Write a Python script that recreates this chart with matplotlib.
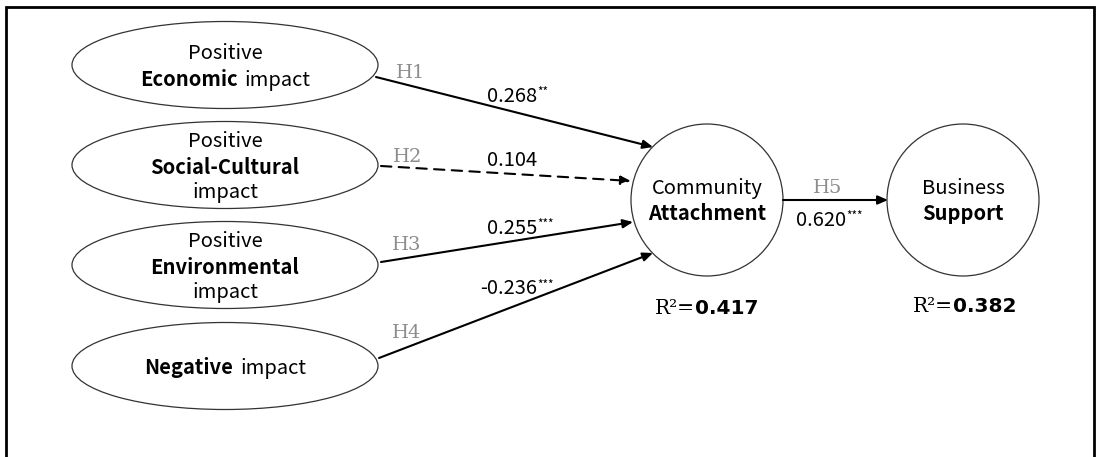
import matplotlib
matplotlib.use("Agg")
import matplotlib.pyplot as plt
from matplotlib.patches import Ellipse, Circle, FancyArrowPatch
from matplotlib.offsetbox import TextArea, HPacker, VPacker, AnnotationBbox

# path model values
hypotheses = ["H1", "H2", "H3", "H4", "H5"]
coefs = ["0.268", "0.104", "0.255", "-0.236", "0.620"]
stars = ["**", "", "***", "***", "***"]
significant = [True, False, True, True, True]
r2_values = ["0.417", "0.382"]

# each line is a list of (text, bold) pieces
source_labels = [
    [[("Positive", False)], [("Economic", True), ("impact", False)]],
    [[("Positive", False)], [("Social-Cultural", True)], [("impact", False)]],
    [[("Positive", False)], [("Environmental", True)], [("impact", False)]],
    [[("Negative", True), ("impact", False)]],
]
target_labels = [
    [[("Community", False)], [("Attachment", True)]],
    [[("Business", False)], [("Support", True)]],
]

SANS = ["Noto Sans CJK KR", "DejaVu Sans"]
SERIF = "DejaVu Serif"
FS = 14.5

fig = plt.figure(figsize=(10.99, 4.57), dpi=100)
ax = fig.add_axes([0, 0, 1, 1])
ax.set_xlim(0, 1099)
ax.set_ylim(457, 0)
ax.axis("off")

# frame (no bottom edge)
ax.plot([6, 6, 1094, 1094], [460, 7, 7, 460], color="black", lw=2, solid_joinstyle="miter")


def label_box(lines, fs=FS):
    rows = []
    for line in lines:
        parts = [TextArea(t, textprops=dict(fontsize=fs, family=SANS,
                                            fontweight="bold" if b else "normal"))
                 for t, b in line]
        rows.append(HPacker(children=parts, pad=0, sep=5, align="baseline"))
    return VPacker(children=rows, pad=0, sep=3, align="center")


def place(box, x, y, box_align=(0.5, 0.5)):
    ab = AnnotationBbox(box, (x, y), xycoords="data", frameon=False,
                        box_alignment=box_align, pad=0)
    ax.add_artist(ab)


# source ellipses
src_cx, src_w, src_h = 225, 306, 87
src_cy = [65, 165, 265, 366]
for cy, lab in zip(src_cy, source_labels):
    ax.add_patch(Ellipse((src_cx, cy), src_w, src_h, fill=False, ec="#333333", lw=0.9))
    place(label_box(lab), src_cx, cy + 2)

# target circles
tgt_c = [(707, 200), (963, 200)]
rad = 76
for (cx, cy), lab in zip(tgt_c, target_labels):
    ax.add_patch(Circle((cx, cy), rad, fill=False, ec="#333333", lw=0.9))
    place(label_box(lab), cx, cy + 1)

# arrows
starts = [(376, 77), (381, 166), (381, 262), (379, 358), (783, 200)]
ends = [(653, 147), (631, 181), (633, 222), (653, 253), (888, 200)]
for s, e, sig in zip(starts, ends, significant):
    arr = FancyArrowPatch(s, e, arrowstyle="-|>,head_length=6,head_width=2.6",
                          color="black", lw=1.5, linestyle="-" if sig else (0, (5, 3.5)),
                          shrinkA=0, shrinkB=0, mutation_scale=1)
    ax.add_patch(arr)

# hypothesis tags
h_pos = [(396, 73), (393, 157), (392, 245), (392, 333), (828, 188)]
for h, (x, y) in zip(hypotheses, h_pos):
    ha = "center" if h == "H5" else "left"
    ax.text(x, y, h, fontsize=14, family=SERIF, color="#8c8c8c", ha=ha, va="center")

# coefficient labels
c_pos = [(487, 96), (487, 161), (487, 228), (480, 289), (796, 220)]
for c, st, (x, y) in zip(coefs, stars, c_pos):
    parts = [TextArea(c, textprops=dict(fontsize=FS, family=SANS))]
    if st:
        parts.append(TextArea(st, textprops=dict(fontsize=8.5, family=SANS)))
    place(HPacker(children=parts, pad=0, sep=0, align="top"), x, y, (0, 0.5))

# R squared
r2_pos = [(655, 308), (913, 306)]
for r, (x, y) in zip(r2_values, r2_pos):
    box = HPacker(children=[
        TextArea("R\u00b2=", textprops=dict(fontsize=FS, family=SERIF)),
        TextArea(r, textprops=dict(fontsize=FS, family="DejaVu Sans", fontweight="bold")),
    ], pad=0, sep=0, align="baseline")
    place(box, x, y, (0, 0.5))

fig.savefig("out.png", dpi=100)
